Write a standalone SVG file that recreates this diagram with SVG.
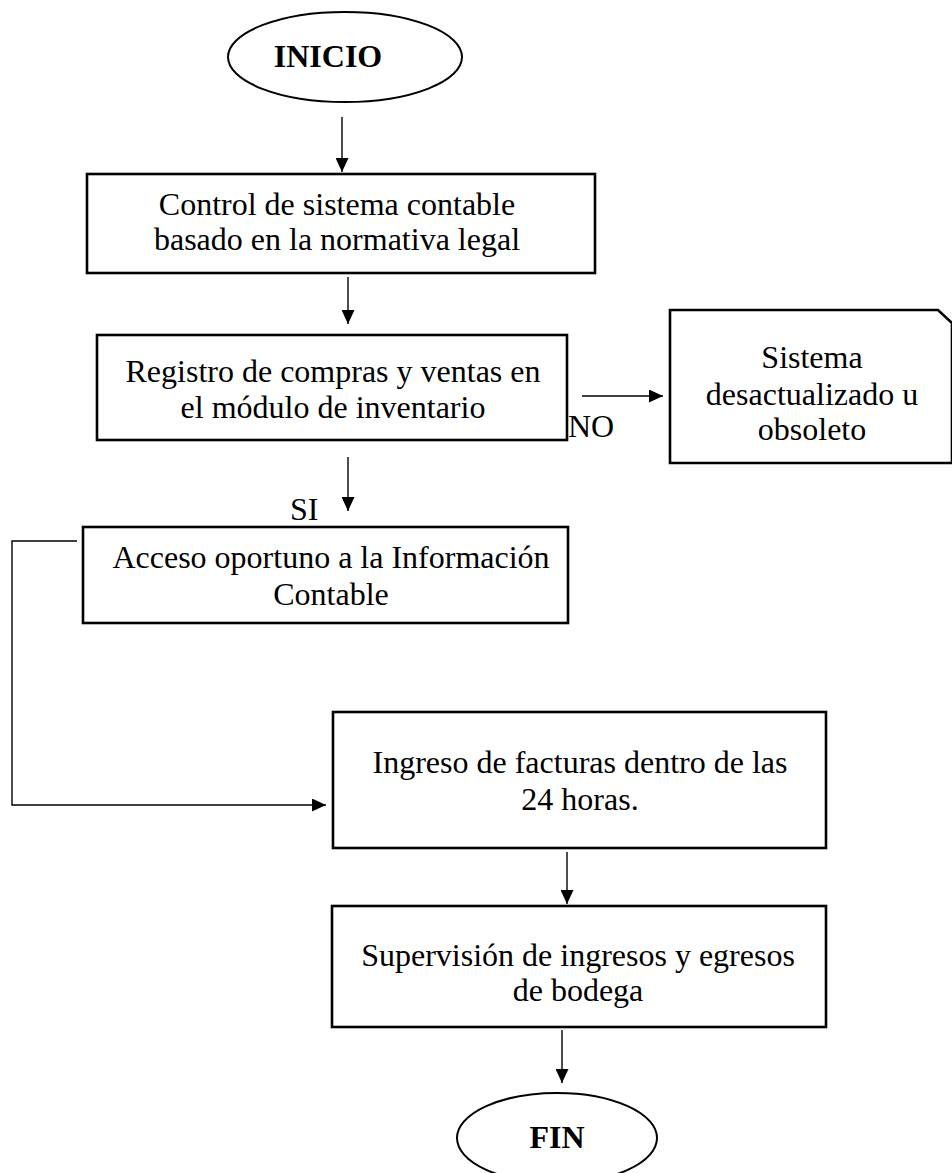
<svg xmlns="http://www.w3.org/2000/svg" width="952" height="1173" viewBox="0 0 952 1173">
  <style>
    .box { fill: #fff; stroke: #000; stroke-width: 2.6; }
    .term { fill: #fff; stroke: #000; stroke-width: 2; }
    .txt { font-family: "Liberation Serif", "Times New Roman", serif; font-size: 32px; fill: #000; }
    .mid { text-anchor: middle; }
    .bold { font-weight: bold; }
    .conn { fill: none; stroke: #000; stroke-width: 1.4; }
    .arrow { marker-end: url(#head); }
  </style>
  <defs>
    <marker id="head" markerUnits="userSpaceOnUse" markerWidth="15" markerHeight="13" refX="14" refY="6.5" orient="auto">
      <path d="M0,0 L14,6.5 L0,13 Z" fill="#000"/>
    </marker>
  </defs>
  <rect width="952" height="1173" fill="#fff"/>

  <!-- connectors -->
  <g id="connectors">
    <line class="conn arrow" x1="342" y1="117" x2="342" y2="172"/>
    <line class="conn arrow" x1="348" y1="277" x2="348" y2="324"/>
    <line class="conn arrow" x1="582" y1="396" x2="663" y2="396"/>
    <line class="conn arrow" x1="348" y1="457" x2="348" y2="511"/>
    <polyline class="conn arrow" points="77,541 12,541 12,805 326,805"/>
    <line class="conn arrow" x1="567" y1="852" x2="567" y2="904"/>
    <line class="conn arrow" x1="562" y1="1030" x2="562" y2="1083"/>
    <text class="txt" x="568" y="437">NO</text>
    <text class="txt" x="290" y="520">SI</text>
  </g>

  <!-- start terminal -->
  <g id="inicio">
    <ellipse class="term" cx="345" cy="57" rx="117" ry="45"/>
    <text class="txt bold mid" x="328" y="67">INICIO</text>
  </g>

  <g id="control">
    <rect class="box" x="87" y="174" width="508" height="99"/>
    <text class="txt mid" x="337" y="215">Control de sistema contable</text>
    <text class="txt mid" x="337" y="250">basado en la normativa legal</text>
  </g>

  <g id="registro">
    <rect class="box" x="97" y="335" width="470" height="105"/>
    <text class="txt mid" x="333" y="382">Registro de compras y ventas en</text>
    <text class="txt mid" x="333" y="418">el módulo de inventario</text>
  </g>

  <!-- card shape with clipped top-right corner -->
  <g id="sistema">
    <path class="box" d="M670,310 H938 L952,323 V463 H670 Z"/>
    <text class="txt mid" x="812" y="368">Sistema</text>
    <text class="txt mid" x="812" y="405">desactualizado u</text>
    <text class="txt mid" x="812" y="440">obsoleto</text>
  </g>

  <g id="acceso">
    <rect class="box" x="83" y="527" width="485" height="96"/>
    <text class="txt mid" x="331" y="568">Acceso oportuno a la Información</text>
    <text class="txt mid" x="331" y="605">Contable</text>
  </g>

  <g id="ingreso">
    <rect class="box" x="333" y="712" width="493" height="136"/>
    <text class="txt mid" x="580" y="773">Ingreso de facturas dentro de las</text>
    <text class="txt mid" x="580" y="810">24 horas.</text>
  </g>

  <g id="supervision">
    <rect class="box" x="332" y="906" width="494" height="121"/>
    <text class="txt mid" x="578" y="966">Supervisión de ingresos y egresos</text>
    <text class="txt mid" x="578" y="1001">de bodega</text>
  </g>

  <!-- end terminal -->
  <g id="fin">
    <ellipse class="term" cx="557" cy="1138" rx="100" ry="45"/>
    <text class="txt bold mid" x="557" y="1148">FIN</text>
  </g>
</svg>
